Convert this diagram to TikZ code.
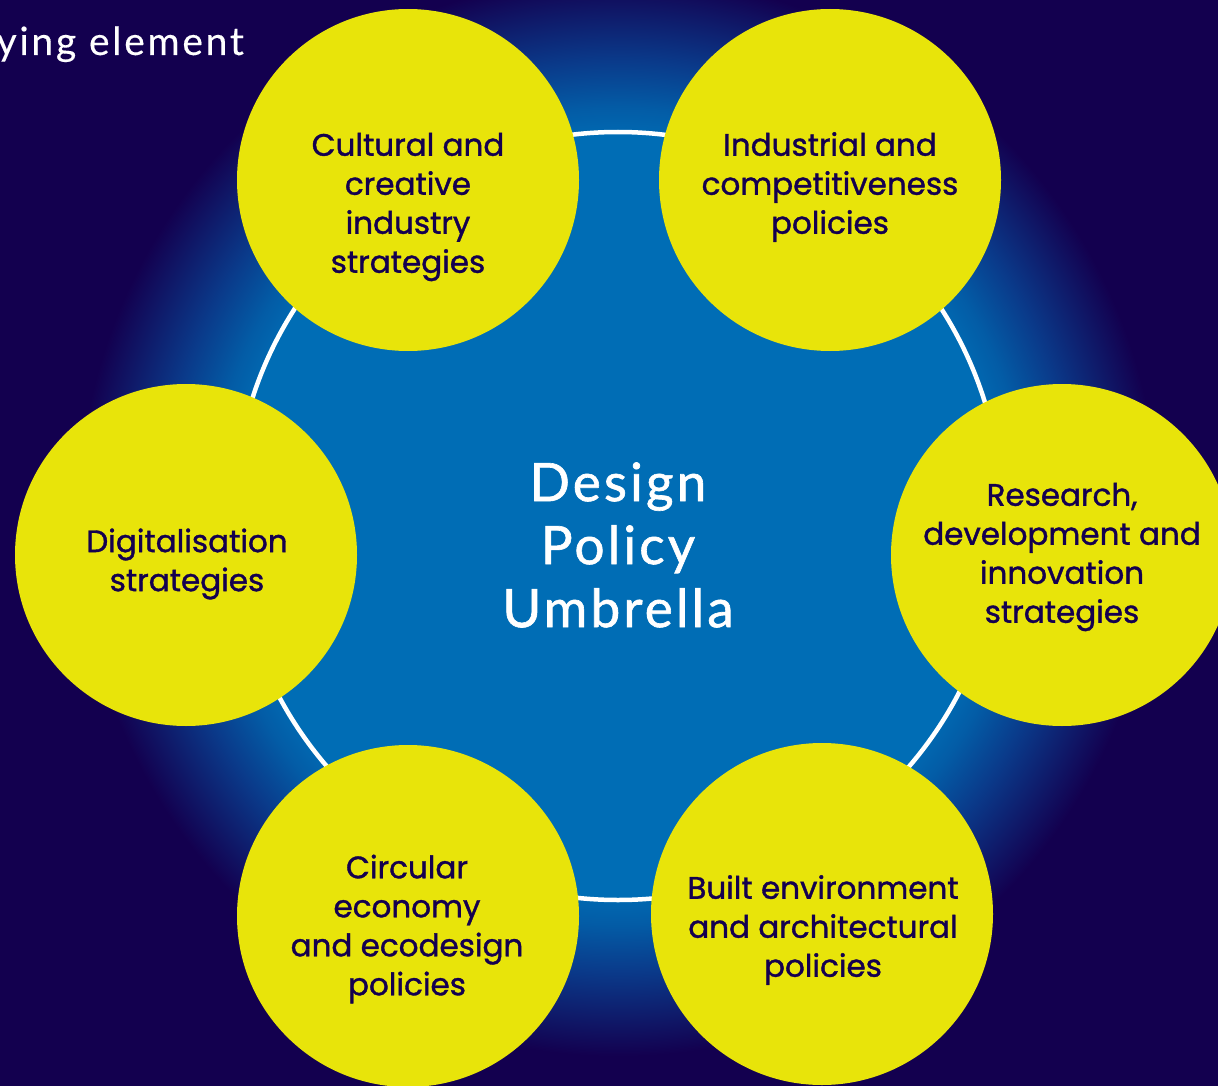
\documentclass[tikz,border=0pt]{standalone}
\usepackage{fontspec}
\setmainfont{Lato}
\newfontfamily\circfont{Poppins}[FakeBold=1.2]
\newfontfamily\centfont{Lato}[FakeBold=1.2, LetterSpace=6]
\newfontfamily\topfont{Lato}[FakeBold=0.3, LetterSpace=7]
\definecolor{navybg}{HTML}{13004F}
\definecolor{midblue}{HTML}{006DB5}
\definecolor{glowmid}{HTML}{0A3A8A}
\definecolor{glowhi}{HTML}{035CA6}
\definecolor{yell}{HTML}{E8E40A}
\definecolor{inktext}{HTML}{14004F}
\pgfdeclareradialshading{glowshade}{\pgfpoint{0bp}{0bp}}{%
  color(0bp)=(midblue); color(15.5bp)=(midblue); color(17bp)=(glowhi);
  color(19bp)=(glowmid); color(22.5bp)=(navybg); color(25bp)=(navybg); color(50bp)=(navybg)}
\tikzset{
  bubble/.style={circle, fill=yell, minimum size=342pt, inner sep=0pt},
  bubbletext/.style={text=inktext, align=center, font=\circfont\fontsize{31}{39}\selectfont},
  hubtext/.style={text=white, align=center, font=\centfont\fontsize{53}{63}\selectfont},
  toptext/.style={text=white, anchor=base west, font=\topfont\fontsize{39}{42}\selectfont}
}
\begin{document}
\begin{tikzpicture}[x=1pt,y=-1pt]
  \useasboundingbox (0,0) rectangle (1218,1086);
  \fill[navybg] (0,0) rectangle (1218,1086);
  \shade[shading=glowshade] (618,516) circle[radius=600];
  \node[circle, fill=midblue, draw=white, line width=4.5pt, minimum size=768pt, inner sep=0pt] (hub) at (618,516) {};
  \node[hubtext] (hublabel) at (618,545) {Design\\Policy\\Umbrella};
  \node[toptext] (corner) at (-7,55) {ying element};
  \node[bubble] (cult) at (408,180) {};
  \node[bubble] (ind) at (830,180) {};
  \node[bubble] (dig) at (186,555) {};
  \node[bubble] (rdi) at (1062,555) {};
  \node[bubble] (circ) at (408,916) {};
  \node[bubble] (built) at (822,914) {};
  \node[bubbletext] at (408,207) {Cultural and\\creative\\industry\\strategies};
  \node[bubbletext] at (830,187) {Industrial and\\competitiveness\\policies};
  \node[bubbletext] at (187,564) {Digitalisation\\strategies};
  \node[bubbletext] at (1062,557) {Research,\\development and\\innovation\\strategies};
  \node[bubbletext] at (407,929) {Circular\\economy\\and ecodesign\\policies};
  \node[bubbletext] at (823,930) {Built environment\\and architectural\\policies};
\end{tikzpicture}
\end{document}
